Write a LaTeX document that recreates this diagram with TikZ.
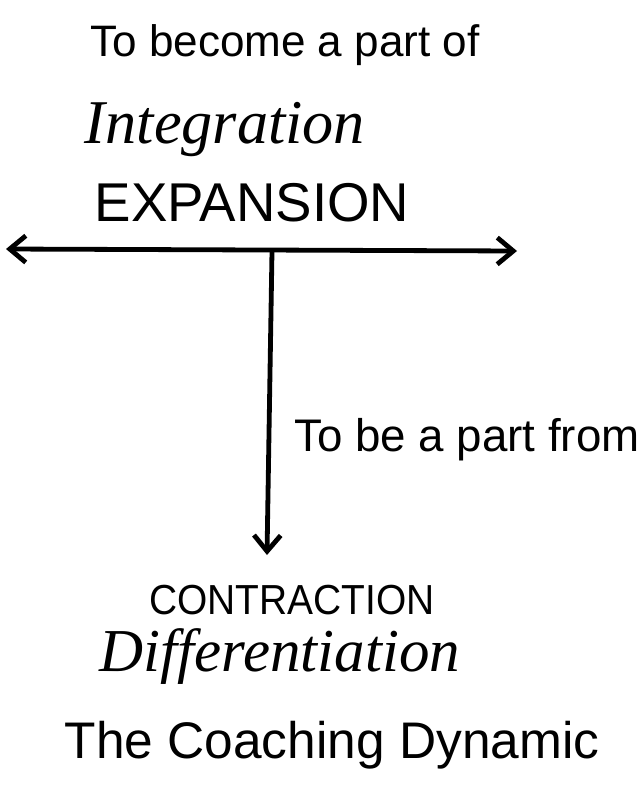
\documentclass[tikz,border=0pt]{standalone}
\usepackage{fontspec}
\setmainfont{Liberation Sans}
\newfontfamily\handserif{Liberation Serif}
\usetikzlibrary{arrows.meta}
\tikzset{
  lbl/.style={inner sep=0pt, anchor=center, text=black},
  conn/.style={line width=3.6pt, line cap=round, black,
    arrows={-Straight Barb[length=12pt, width=20pt, line width=3.6pt]}},
  conn2/.style={line width=3.6pt, line cap=round, black,
    arrows={Straight Barb[length=12pt, width=20pt, line width=3.6pt]-Straight Barb[length=12pt, width=20pt, line width=3.6pt]}}
}
\newcommand{\fitw}[2]{\resizebox{#1}{!}{#2}}
\begin{document}
\begin{tikzpicture}[x=0.75pt,y=-0.75pt]
\useasboundingbox (0,0) rectangle (642,785);
\node[lbl] (top) at (285,45) {\fitw{292pt}{To become a part of}};
\node[lbl] (integ) at (225,130) {\fitw{210pt}{\handserif\itshape Integration}};
\node[lbl] (exp) at (252,203) {\fitw{236pt}{EXPANSION}};
\coordinate (L) at (6,249);
\coordinate (R) at (517,251);
\coordinate (J) at (272,251);
\coordinate (D) at (267,555);
\draw[conn2] (L) -- (R);
\draw[conn] (J) -- (D);
\node[lbl] (from) at (467,440) {\fitw{259pt}{To be a part from}};
\node[lbl] (contr) at (292,600) {\resizebox{214pt}{22pt}{CONTRACTION}};
\node[lbl] (diff) at (280,657) {\fitw{270pt}{\handserif\itshape Differentiation}};
\node[lbl] (coach) at (332,745) {\fitw{401pt}{The Coaching Dynamic}};
\end{tikzpicture}
\end{document}
